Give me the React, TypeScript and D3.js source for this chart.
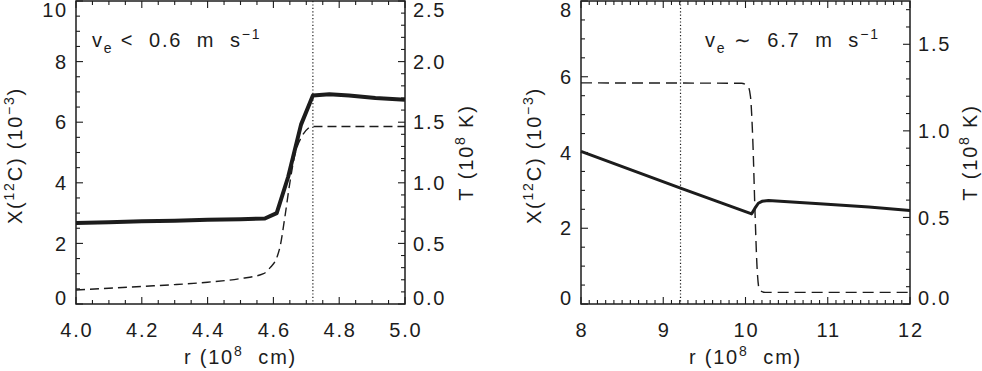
import * as d3 from "d3";

// left panel, v_e < 0.6 m/s
const leftCR = [4.0, 4.1, 4.2, 4.3, 4.4, 4.5, 4.574, 4.61, 4.645, 4.684, 4.72, 4.77, 4.83, 4.91, 5.0];
const leftC = [2.67, 2.7, 2.73, 2.75, 2.78, 2.8, 2.82, 3.0, 4.2, 5.92, 6.88, 6.92, 6.88, 6.8, 6.74];
const leftTR = [4.0, 4.1, 4.2, 4.3, 4.4, 4.5, 4.57, 4.59, 4.61, 4.62, 4.635, 4.65, 4.666, 4.686, 4.706, 4.72, 5.0];
const leftT = [0.116, 0.13, 0.145, 0.16, 0.18, 0.21, 0.25, 0.3, 0.38, 0.47, 0.72, 1.0, 1.24, 1.38, 1.45, 1.465, 1.465];
const leftMark = 4.72;

// right panel, v_e ~ 6.7 m/s
const rightCR = [8, 9.21, 10.075, 10.115, 10.156, 10.2, 10.28, 10.66, 10.9, 11.5, 12];
const rightC = [4.03, 3.06, 2.38, 2.53, 2.66, 2.71, 2.73, 2.68, 2.65, 2.56, 2.47];
const rightTR = [8, 9.95, 10.03, 10.06, 10.09, 10.115, 10.14, 10.17, 10.24, 12];
const rightT = [1.277, 1.275, 1.258, 1.2, 0.93, 0.54, 0.216, 0.081, 0.067, 0.067];
const rightMark = 9.21;

const FONT = "'Liberation Sans', Arial, Helvetica, sans-serif";
const INK = "#1c1c1c";
const FS = 20;
const LS = 1.8;
const SP = "\u00A0";

const TOP = 1;
const BOTTOM = 304;

type PanelProps = {
  left: number;
  right: number;
  xDomain: [number, number];
  xTicks: [number, number];
  xFmt: string;
  cDomain: [number, number];
  cTicks: [number, number];
  tDomain: [number, number];
  tTicks: [number, number];
  cR: number[];
  c: number[];
  tR: number[];
  t: number[];
  mark: number;
  solidWidth: number;
  dash: string;
  rel: string;
  speed: string;
  noteX: number;
  cTitleX: number;
  tTitleX: number;
};

function Panel(p: PanelProps) {
  const x = d3.scaleLinear().domain(p.xDomain).range([p.left, p.right]);
  const yc = d3.scaleLinear().domain(p.cDomain).range([BOTTOM, TOP]);
  const yt = d3.scaleLinear().domain(p.tDomain).range([BOTTOM, TOP]);
  const fx = d3.format(p.xFmt);
  const ft = d3.format(".1f");

  const solid = d3
    .line<number>()
    .x((d, i) => x(p.cR[i]))
    .y((d) => yc(d));
  const dashed = d3
    .line<number>()
    .x((d, i) => x(p.tR[i]))
    .y((d) => yt(d))
    .curve(d3.curveMonotoneX);

  const xMaj = x.ticks(p.xTicks[0]);
  const xMin = x.ticks(p.xTicks[1]);
  const cMaj = yc.ticks(p.cTicks[0]);
  const cMin = yc.ticks(p.cTicks[1]);
  const tMaj = yt.ticks(p.tTicks[0]);
  const tMin = yt.ticks(p.tTicks[1]);
  const clampY = (v: number) => Math.max(10, Math.min(298, v));
  const midY = (TOP + BOTTOM) / 2;
  const S2 = SP + SP;

  return (
    <g>
      {/* ticks */}
      <g stroke={INK} strokeWidth={1.1}>
        {xMin.map((v) => {
          const len = xMaj.some((m) => Math.abs(m - v) < 1e-9) ? 7 : 4;
          return (
            <g key={"x" + v}>
              <line x1={x(v)} x2={x(v)} y1={BOTTOM} y2={BOTTOM - len} />
              <line x1={x(v)} x2={x(v)} y1={TOP} y2={TOP + len} />
            </g>
          );
        })}
        {cMin.map((v) => {
          const len = cMaj.some((m) => Math.abs(m - v) < 1e-9) ? 7 : 4;
          return <line key={"c" + v} x1={p.left} x2={p.left + len} y1={yc(v)} y2={yc(v)} />;
        })}
        {tMin.map((v) => {
          const len = tMaj.some((m) => Math.abs(m - v) < 1e-9) ? 7 : 4;
          return <line key={"t" + v} x1={p.right} x2={p.right - len} y1={yt(v)} y2={yt(v)} />;
        })}
      </g>

      {/* curves */}
      <line
        x1={x(p.mark)}
        x2={x(p.mark)}
        y1={TOP}
        y2={BOTTOM}
        stroke={INK}
        strokeWidth={1.2}
        strokeDasharray="1.2 2.2"
      />
      <path d={dashed(p.t) ?? ""} fill="none" stroke={INK} strokeWidth={1.4} strokeDasharray={p.dash} />
      <path
        d={solid(p.c) ?? ""}
        fill="none"
        stroke={INK}
        strokeWidth={p.solidWidth}
        strokeLinejoin="round"
      />

      <rect
        x={p.left}
        y={TOP}
        width={p.right - p.left}
        height={BOTTOM - TOP}
        fill="none"
        stroke={INK}
        strokeWidth={1.5}
      />

      {/* tick labels */}
      <g fontFamily={FONT} fontSize={FS} fill={INK} letterSpacing={LS}>
        {xMaj.map((v) => (
          <text key={"xl" + v} x={x(v) + LS / 2} y={337} textAnchor="middle">
            {fx(v)}
          </text>
        ))}
        {cMaj.map((v) => (
          <text key={"cl" + v} x={p.left - 8} y={clampY(yc(v))} dy="0.36em" textAnchor="end">
            {v}
          </text>
        ))}
        {tMaj.map((v) => (
          <text key={"tl" + v} x={p.right + 8} y={clampY(yt(v))} dy="0.36em" textAnchor="start">
            {ft(v)}
          </text>
        ))}
      </g>

      {/* titles */}
      <g fontFamily={FONT} fontSize={FS} fill={INK} letterSpacing={LS}>
        <text x={(p.left + p.right) / 2} y={364} textAnchor="middle">
          {"r" + SP + "(10"}
          <tspan dy={-8} fontSize={14}>8</tspan>
          <tspan dy={8}>{S2 + "cm)"}</tspan>
        </text>
        <text transform={`translate(${p.cTitleX},${midY + 3}) rotate(-90)`} textAnchor="middle">
          X(<tspan dy={-8} fontSize={14}>12</tspan>
          <tspan dy={8}>{"C)" + SP + "(10"}</tspan>
          <tspan dy={-8} fontSize={14}>−3</tspan>
          <tspan dy={8}>)</tspan>
        </text>
        <text transform={`translate(${p.tTitleX},${midY}) rotate(-90)`} textAnchor="middle">
          {"T" + SP + "(10"}
          <tspan dy={-8} fontSize={14}>8</tspan>
          <tspan dy={8}>{SP + "K)"}</tspan>
        </text>
        <text x={p.noteX} y={47} textAnchor="start">
          v<tspan dy={6} fontSize={14}>e</tspan>
          <tspan dy={-6}>{SP + p.rel + S2 + p.speed + S2 + "m" + S2 + "s"}</tspan>
          <tspan dy={-8} fontSize={14}>−1</tspan>
        </text>
      </g>
    </g>
  );
}

export default function App() {
  return (
    <div style={{ position: "absolute", left: 0, top: 0 }}>
      <svg width={982} height={371} style={{ display: "block", background: "#fff" }}>
        <Panel
          left={76}
          right={405}
          xDomain={[4, 5]}
          xTicks={[5, 20]}
          xFmt=".1f"
          cDomain={[0, 10]}
          cTicks={[5, 20]}
          tDomain={[0, 2.5]}
          tTicks={[5, 25]}
          cR={leftCR}
          c={leftC}
          tR={leftTR}
          t={leftT}
          mark={leftMark}
          solidWidth={4}
          dash="9 5"
          rel="<"
          speed="0.6"
          noteX={92}
          cTitleX={22}
          tTitleX={473}
        />
        <Panel
          left={581}
          right={910}
          xDomain={[8, 12]}
          xTicks={[4, 40]}
          xFmt="d"
          cDomain={[0, 8]}
          cTicks={[4, 16]}
          tDomain={[0, 1.75]}
          tTicks={[4, 17]}
          cR={rightCR}
          c={rightC}
          tR={rightTR}
          t={rightT}
          mark={rightMark}
          solidWidth={3}
          dash="11 6"
          rel="∼"
          speed="6.7"
          noteX={705}
          cTitleX={541}
          tTitleX={977}
        />
      </svg>
    </div>
  );
}
